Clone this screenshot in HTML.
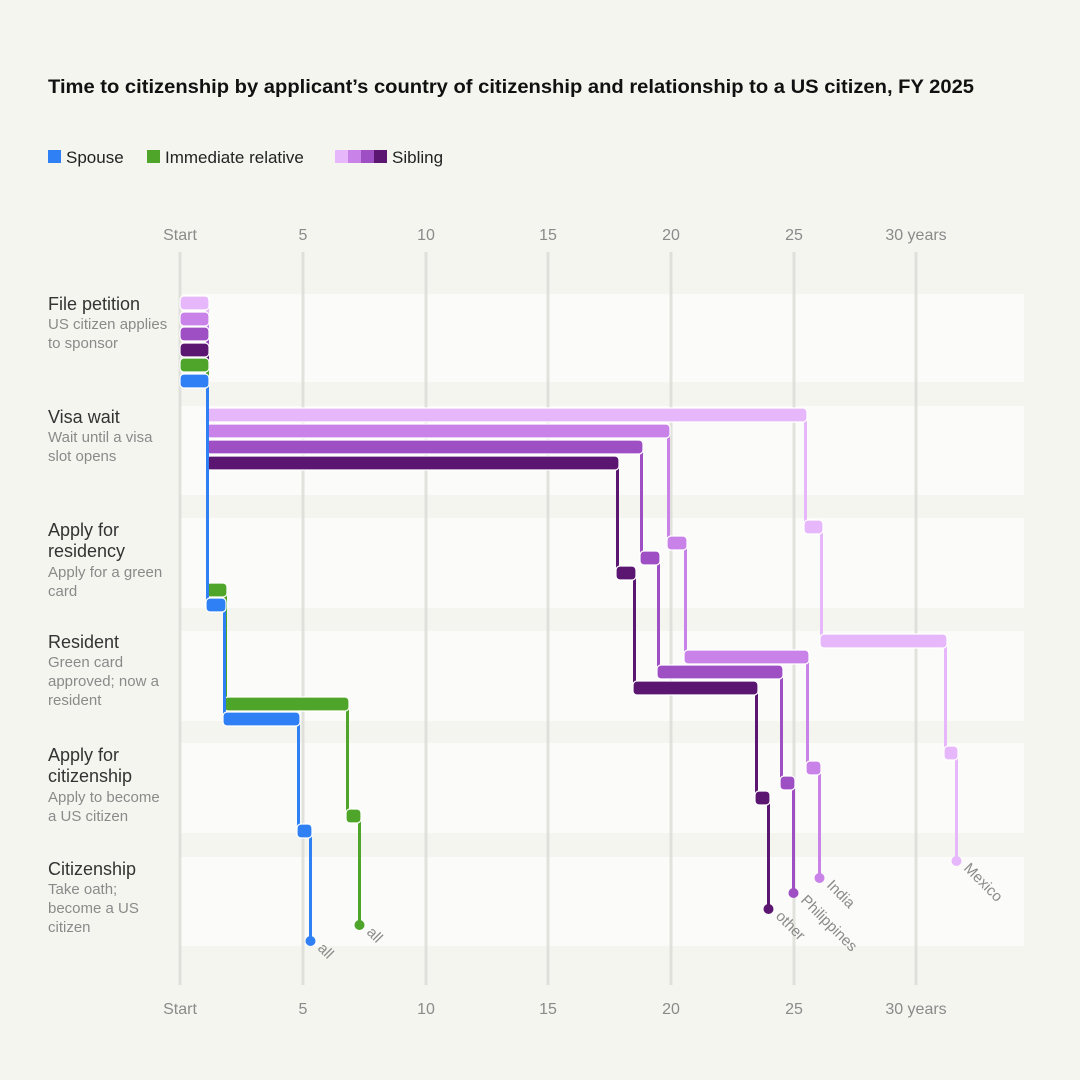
<!DOCTYPE html>
<html><head><meta charset="utf-8"><style>
html,body{margin:0;padding:0;background:#f5f5f0;}
svg{display:block;font-family:"Liberation Sans",sans-serif;}
</style></head><body>
<svg id="s" width="1080" height="1080" viewBox="0 0 1080 1080">
<rect width="1080" height="1080" fill="#f5f5f0"/>
<text x="48" y="93" font-size="19.5" font-weight="bold" fill="#111" textLength="926" lengthAdjust="spacingAndGlyphs">Time to citizenship by applicant’s country of citizenship and relationship to a US citizen, FY 2025</text>
<rect x="48" y="150" width="13" height="13" fill="#2f80f5"/>
<text x="66" y="163" font-size="17" fill="#222">Spouse</text>
<rect x="147" y="150" width="13" height="13" fill="#4fa52a"/>
<text x="165" y="163" font-size="17" fill="#222">Immediate relative</text>
<rect x="335" y="150" width="13" height="13" fill="#e6b8fb"/>
<rect x="348" y="150" width="13" height="13" fill="#c882e8"/>
<rect x="361" y="150" width="13" height="13" fill="#9f4fc4"/>
<rect x="374" y="150" width="13" height="13" fill="#5a1670"/>
<text x="392" y="163" font-size="17" fill="#222">Sibling</text>
<g fill="#fbfbf9">
<rect x="180" y="294" width="844" height="88"/>
<rect x="180" y="406" width="844" height="89"/>
<rect x="180" y="518" width="844" height="90"/>
<rect x="180" y="631" width="844" height="90"/>
<rect x="180" y="743" width="844" height="90"/>
<rect x="180" y="857" width="844" height="89"/>
</g>
<g id="grid" stroke="#dcdcd6" stroke-width="3" opacity="0.8"></g>
<g font-size="16" fill="#8a8a8a" text-anchor="middle">
<text x="180" y="240">Start</text><text x="303" y="240">5</text><text x="426" y="240">10</text><text x="548" y="240">15</text><text x="671" y="240">20</text><text x="794" y="240">25</text><text x="916" y="240">30 years</text>
<text x="180" y="1014">Start</text><text x="303" y="1014">5</text><text x="426" y="1014">10</text><text x="548" y="1014">15</text><text x="671" y="1014">20</text><text x="794" y="1014">25</text><text x="916" y="1014">30 years</text>
</g>
<g font-size="18" fill="#333">
<text x="48" y="310">File petition</text>
<text x="48" y="423">Visa wait</text>
<text x="48" y="536">Apply for</text><text x="48" y="557">residency</text>
<text x="48" y="648">Resident</text>
<text x="48" y="761">Apply for</text><text x="48" y="782">citizenship</text>
<text x="48" y="875">Citizenship</text>
</g>
<g font-size="15" fill="#8a8a8a">
<text x="48" y="329">US citizen applies</text><text x="48" y="348">to sponsor</text>
<text x="48" y="442">Wait until a visa</text><text x="48" y="461">slot opens</text>
<text x="48" y="577">Apply for a green</text><text x="48" y="596">card</text>
<text x="48" y="667">Green card</text><text x="48" y="686">approved; now a</text><text x="48" y="705">resident</text>
<text x="48" y="802">Apply to become</text><text x="48" y="821">a US citizen</text>
<text x="48" y="894">Take oath;</text><text x="48" y="913">become a US</text><text x="48" y="932">citizen</text>
</g>
<g id="series"></g>
<g font-size="15" fill="#8a8a8a">
<text transform="translate(963,869) rotate(45)">Mexico</text>
<text transform="translate(826,886) rotate(45)">India</text>
<text transform="translate(800,901) rotate(45)">Philippines</text>
<text transform="translate(775,917) rotate(45)">other</text>
<text transform="translate(366,933) rotate(45)">all</text>
<text transform="translate(317,949) rotate(45)">all</text>
</g>
</svg>
<script>
var NS="http://www.w3.org/2000/svg";
var g=document.getElementById('grid');
[180,303,426,548,671,794,916].forEach(function(x){var l=document.createElementNS(NS,'line');l.setAttribute('x1',x);l.setAttribute('x2',x);l.setAttribute('y1',252);l.setAttribute('y2',985);g.appendChild(l);});
var S=[
 ['#e6b8fb',[[296,180,209],[408,209,807],[520,807,823],[634,823,947],[746,947,958]],861],
 ['#c882e8',[[312,180,209],[424,209,670],[536,670,687],[650,687,809],[761,809,821]],878],
 ['#9f4fc4',[[327,180,209],[440,209,643],[551,643,660],[665,660,783],[776,783,795]],893],
 ['#5a1670',[[343,180,209],[456,209,619],[566,619,636],[681,636,758],[791,758,770]],909],
 ['#4fa52a',[[358,180,209],[583,209,227],[697,227,349],[809,349,361]],925],
 ['#2f80f5',[[374,180,209],[598,209,226],[712,226,300],[824,300,312]],941]
];
var sg=document.getElementById('series');
function el(t,a){var e=document.createElementNS(NS,t);for(var k in a)e.setAttribute(k,a[k]);sg.appendChild(e);return e;}
S.forEach(function(s){
 var c=s[0],b=s[1];
 for(var i=0;i<b.length;i++){
  var y=b[i][0],x1=b[i][2];
  var ny=(i+1<b.length)?b[i+1][0]:s[2];
  el('rect',{x:x1-3,y:y+6,width:3,height:ny-y-4,fill:c});
 }
 for(var i=0;i<b.length;i++){
  var y=b[i][0],x0=b[i][1]-3,x1=b[i][2];
  if(i==0)x0=180;
  el('rect',{x:x0,y:y,width:x1-x0,height:14,rx:4,fill:c,stroke:'#fff','stroke-width':1.2});
 }
 var lx=b[b.length-1][2]-1.5;
 el('circle',{cx:lx,cy:s[2],r:5,fill:c});
});
</script>
</body></html>
